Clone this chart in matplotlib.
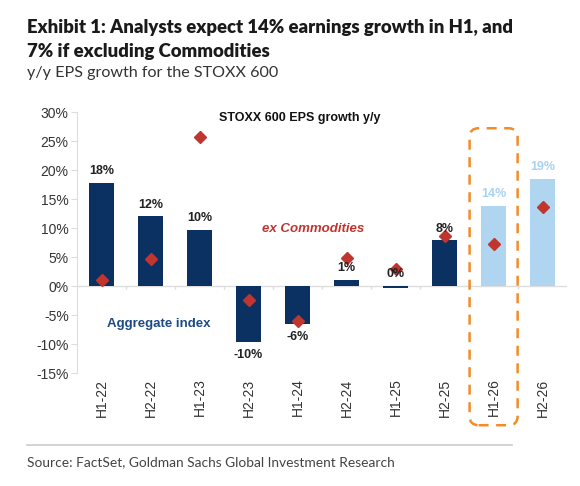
import numpy as np
import matplotlib
matplotlib.use("Agg")
import matplotlib.pyplot as plt
from matplotlib.patches import FancyBboxPatch

# values
periods = ["H1-22", "H2-22", "H1-23", "H2-23", "H1-24", "H2-24", "H1-25", "H2-25", "H1-26", "H2-26"]
aggregate = [17.8, 12.0, 9.7, -9.6, -6.5, 1.1, -0.3, 7.9, 13.8, 18.5]
ex_commod = [1.0, 4.7, 25.7, -2.4, -6.0, 4.8, 2.9, 8.6, 7.3, 13.6]
bar_labels = ["18%", "12%", "10%", "-10%", "-6%", "1%", "0%", "8%", "14%", "19%"]
is_forecast = [False] * 8 + [True] * 2
y_ticks = [30, 25, 20, 15, 10, 5, 0, -5, -10, -15]

navy = "#0b3162"
light = "#b0d5f1"
red = "#c1352f"
orange = "#f28c28"
arial = ["Liberation Sans", "DejaVu Sans"]

fig = plt.figure(figsize=(5.8, 4.86), dpi=100)
ax = fig.add_axes([0.1328, 0.2325, 0.845, 0.537])

x = np.arange(len(periods))
colors = [light if f else navy for f in is_forecast]
ax.bar(x, aggregate, width=0.5, color=colors, zorder=2)
ax.plot(x, ex_commod, linestyle="none", marker="D", markersize=6.5,
        color=red, zorder=3)

for xi, v, lab, f in zip(x, aggregate, bar_labels, is_forecast):
    col = "#a9d2f2" if f else "#222222"
    if lab.startswith("-"):
        ax.annotate(lab, (xi, v), xytext=(0, -5), textcoords="offset points",
                    ha="center", va="top", fontsize=9, fontweight="bold",
                    color=col, family=arial)
    else:
        ax.annotate(lab, (xi, max(v, 0)), xytext=(0, 4), textcoords="offset points",
                    ha="center", va="bottom", fontsize=9, fontweight="bold",
                    color=col, family=arial)

ax.set_xlim(-0.5, len(periods) - 0.5)
ax.set_ylim(-15, 30)
ax.set_yticks(y_ticks)
ax.set_yticklabels([f"{t}%" for t in y_ticks], family=arial, fontsize=10, color="#333333")
ax.set_xticks(x)
ax.set_xticklabels(periods, rotation=90, family=arial, fontsize=10, color="#333333")
ax.tick_params(axis="x", length=0, pad=4)
ax.tick_params(axis="y", length=4, color="#dddddd", pad=2)

for s in ["top", "right", "bottom"]:
    ax.spines[s].set_visible(False)
ax.spines["left"].set_color("#dddddd")
ax.axhline(0, color="#dddddd", linewidth=1, zorder=1)
ax.vlines(x[:-1] + 0.5, -0.6, 0, color="#dddddd", linewidth=1, zorder=1)

ax.text(2.4, 29, "STOXX 600 EPS growth y/y", fontsize=9, fontweight="bold",
        color="#111111", family=arial, va="center")
ax.text(3.28, 9.8, "ex Commodities", fontsize=9.5, fontweight="bold", style="italic",
        color=red, family=arial, va="center")
ax.text(0.12, -6.5, "Aggregate index", fontsize=9.5, fontweight="bold",
        color="#1c4a84", family=arial, va="center")

# dashed rounded box around H1-26, built in pixel space so corners stay round
fig.canvas.draw()
x0, y0 = ax.transData.transform((8 - 0.49, -24.0))
x1, y1 = ax.transData.transform((8 + 0.49, 27.2))
box = FancyBboxPatch((x0 + 6, y0 + 6), (x1 - x0) - 12, (y1 - y0) - 12,
                     boxstyle="round,pad=6,rounding_size=9", transform=None,
                     fill=False, edgecolor=orange, linewidth=1.8,
                     linestyle=(0, (4, 3)), clip_on=False, zorder=4)
fig.patches.append(box)

fig.text(27 / 580, 1 - 28 / 486, "Exhibit 1: Analysts expect 14% earnings growth in H1, and",
         fontsize=13.3, fontweight="heavy", family=["Lato", "DejaVu Sans"],
         color="#1a1a1a", va="center")
fig.text(27 / 580, 1 - 52 / 486, "7% if excluding Commodities",
         fontsize=13.3, fontweight="heavy", family=["Lato", "DejaVu Sans"],
         color="#1a1a1a", va="center")
fig.text(27 / 580, 1 - 73 / 486, "y/y EPS growth for the STOXX 600",
         fontsize=11.6, family=["Lato", "DejaVu Sans"], color="#333333", va="center")

fig.add_artist(plt.Line2D([27 / 580, 512 / 580], [1 - 445 / 486, 1 - 445 / 486],
                          color="#cccccc", linewidth=1.2))
fig.text(27 / 580, 1 - 462 / 486, "Source: FactSet, Goldman Sachs Global Investment Research",
         fontsize=9.9, family=["Lato", "DejaVu Sans"], color="#444444", va="center")

fig.savefig("out.png", dpi=100)
